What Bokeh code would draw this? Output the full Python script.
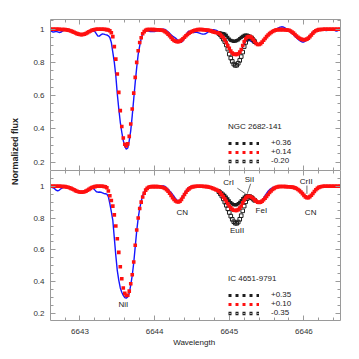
import numpy as np
from bokeh.plotting import figure
from bokeh.models import (Range1d, LinearAxis, SingleIntervalTicker, PrintfTickFormatter,
                          CustomJSTickFormatter, Legend, LegendItem, Label)
from bokeh.layouts import row, column
from bokeh.embed import file_html
from bokeh.resources import INLINE
from bokeh.core.properties import value

FONT = "Liberation Sans"
AXC = "#9a9a9a"
TXT = "#222222"

# ---------------- data ----------------
# spectra are sampled every 0.02 A from 6642.60 to 6646.50
wave = np.round(6642.60 + 0.02 * np.arange(196), 2)
# window around the Eu II line where the three models differ (6644.86 .. 6645.34)
eu_start, eu_len = 113, 25
wave_eu = wave[eu_start:eu_start + eu_len]

# ---- NGC 2682-141 (top panel) ----
top_star = "NGC 2682-141"
top_labels = ["+0.36", "+0.14", "-0.20"]
top_observed = [
    0.990, 0.986, 0.982, 0.984, 0.987, 0.984, 0.980, 0.981, 0.987, 0.993,
    0.997, 0.998, 0.998, 0.996, 0.992, 0.987, 0.982, 0.977, 0.973, 0.970,
    0.968, 0.967, 0.968, 0.970, 0.974, 0.979, 0.984, 0.988, 0.990, 0.990,
    0.985, 0.972, 0.958, 0.958, 0.966, 0.971, 0.970, 0.967, 0.965, 0.960,
    0.950, 0.920, 0.860, 0.800, 0.720, 0.610, 0.520, 0.440, 0.380, 0.330,
    0.295, 0.278, 0.285, 0.330, 0.390, 0.480, 0.580, 0.680, 0.770, 0.850,
    0.900, 0.945, 0.972, 0.985, 0.990, 0.990, 0.988, 0.986, 0.985, 0.985,
    0.986, 0.988, 0.991, 0.994, 0.997, 0.999, 1.000, 0.998, 0.992, 0.984,
    0.975, 0.966, 0.958, 0.952, 0.946, 0.938, 0.929, 0.921, 0.921, 0.930,
    0.948, 0.966, 0.980, 0.988, 0.986, 0.982, 0.980, 0.981, 0.982, 0.979,
    0.976, 0.973, 0.971, 0.970, 0.972, 0.977, 0.984, 0.989, 0.993, 0.996,
    0.996, 0.994, 0.990, 0.982, 0.972, 0.960, 0.947, 0.932, 0.914, 0.897,
    0.880, 0.864, 0.853, 0.846, 0.843, 0.844, 0.848, 0.858, 0.873, 0.893,
    0.912, 0.928, 0.935, 0.934, 0.930, 0.925, 0.919, 0.913, 0.908, 0.905,
    0.905, 0.910, 0.918, 0.928, 0.940, 0.952, 0.964, 0.974, 0.982, 0.989,
    0.994, 0.998, 1.003, 1.008, 1.012, 1.014, 1.013, 1.009, 1.003, 0.997,
    0.990, 0.982, 0.974, 0.966, 0.957, 0.948, 0.940, 0.932, 0.926, 0.922,
    0.923, 0.928, 0.938, 0.950, 0.962, 0.973, 0.982, 0.988, 0.992, 0.994,
    0.995, 0.996, 0.996, 0.995, 0.993, 0.992, 0.993, 0.996, 0.999, 1.000,
    0.997, 0.990, 0.988, 0.992, 0.997, 0.999,
]
top_model_mid = [
    0.999, 0.999, 0.999, 0.999, 0.999, 0.999, 0.999, 0.998, 0.998, 0.998,
    0.997, 0.996, 0.994, 0.992, 0.989, 0.985, 0.981, 0.977, 0.973, 0.970,
    0.968, 0.967, 0.968, 0.970, 0.974, 0.979, 0.984, 0.989, 0.993, 0.996,
    0.998, 0.999, 0.999, 0.999, 0.999, 0.999, 0.999, 0.998, 0.997, 0.995,
    0.990, 0.978, 0.955, 0.895, 0.820, 0.730, 0.620, 0.510, 0.415, 0.345,
    0.308, 0.298, 0.310, 0.355, 0.430, 0.520, 0.615, 0.710, 0.800, 0.870,
    0.920, 0.948, 0.972, 0.985, 0.993, 0.997, 0.998, 0.998, 0.998, 0.997,
    0.997, 0.996, 0.996, 0.995, 0.994, 0.993, 0.990, 0.985, 0.978, 0.970,
    0.960, 0.950, 0.940, 0.932, 0.927, 0.925, 0.925, 0.928, 0.934, 0.942,
    0.951, 0.960, 0.968, 0.975, 0.981, 0.986, 0.990, 0.993, 0.995, 0.997,
    0.998, 0.998, 0.997, 0.996, 0.995, 0.994, 0.993, 0.991, 0.988, 0.985,
    0.982, 0.980, 0.978, 0.975, 0.968, 0.958, 0.948, 0.936, 0.918, 0.900,
    0.885, 0.868, 0.857, 0.850, 0.848, 0.848, 0.852, 0.862, 0.878, 0.902,
    0.925, 0.942, 0.953, 0.956, 0.955, 0.949, 0.938, 0.926, 0.914, 0.908,
    0.908, 0.913, 0.922, 0.933, 0.944, 0.955, 0.965, 0.973, 0.980, 0.986,
    0.990, 0.994, 0.996, 0.997, 0.997, 0.997, 0.997, 0.996, 0.995, 0.994,
    0.993, 0.989, 0.983, 0.976, 0.968, 0.959, 0.951, 0.945, 0.940, 0.937,
    0.936, 0.937, 0.940, 0.946, 0.955, 0.965, 0.975, 0.984, 0.990, 0.994,
    0.997, 0.998, 0.998, 0.999, 0.999, 0.999, 0.999, 0.999, 0.999, 0.999,
    0.999, 0.999, 0.999, 0.999, 0.999, 0.999,
]
top_model_filled = [
    0.977, 0.976, 0.975, 0.973, 0.970, 0.962, 0.950, 0.940, 0.933, 0.929,
    0.927, 0.928, 0.931, 0.936, 0.943, 0.950, 0.957, 0.962, 0.964, 0.964,
    0.961, 0.957, 0.951, 0.940, 0.928,
]
top_model_open = [
    0.974, 0.966, 0.954, 0.940, 0.925, 0.905, 0.880, 0.850, 0.826, 0.806,
    0.790, 0.782, 0.783, 0.795, 0.812, 0.835, 0.862, 0.895, 0.920, 0.940,
    0.948, 0.950, 0.946, 0.936, 0.925,
]

# ---- IC 4651-9791 (bottom panel) ----
bot_star = "IC 4651-9791"
bot_labels = ["+0.35", "+0.10", "-0.35"]
bot_observed = [
    0.995, 0.993, 0.990, 0.984, 0.975, 0.970, 0.974, 0.982, 0.988, 0.993,
    0.996, 0.996, 0.994, 0.990, 0.986, 0.981, 0.976, 0.971, 0.966, 0.962,
    0.960, 0.959, 0.960, 0.963, 0.968, 0.975, 0.983, 0.989, 0.990, 0.985,
    0.975, 0.965, 0.962, 0.963, 0.962, 0.958, 0.954, 0.952, 0.950, 0.935,
    0.890, 0.840, 0.785, 0.675, 0.565, 0.470, 0.410, 0.362, 0.335, 0.315,
    0.302, 0.298, 0.305, 0.330, 0.380, 0.440, 0.520, 0.620, 0.720, 0.800,
    0.860, 0.905, 0.940, 0.965, 0.982, 0.990, 0.993, 0.994, 0.994, 0.995,
    0.996, 0.997, 0.998, 0.999, 1.000, 1.001, 1.001, 0.998, 0.990, 0.980,
    0.970, 0.960, 0.948, 0.935, 0.922, 0.912, 0.908, 0.912, 0.925, 0.940,
    0.955, 0.970, 0.983, 0.992, 0.997, 0.999, 1.000, 1.000, 0.999, 0.998,
    0.998, 0.998, 0.998, 0.997, 0.996, 0.995, 0.993, 0.991, 0.988, 0.984,
    0.980, 0.976, 0.971, 0.965, 0.955, 0.943, 0.930, 0.916, 0.901, 0.886,
    0.872, 0.860, 0.851, 0.846, 0.844, 0.846, 0.851, 0.861, 0.876, 0.896,
    0.915, 0.929, 0.937, 0.939, 0.936, 0.930, 0.922, 0.913, 0.905, 0.900,
    0.899, 0.903, 0.912, 0.925, 0.940, 0.955, 0.968, 0.978, 0.985, 0.990,
    0.994, 0.996, 0.997, 0.998, 0.998, 0.998, 0.998, 0.997, 0.996, 0.995,
    0.995, 0.994, 0.993, 0.991, 0.989, 0.986, 0.982, 0.976, 0.968, 0.958,
    0.948, 0.938, 0.931, 0.929, 0.933, 0.942, 0.954, 0.966, 0.977, 0.986,
    0.992, 0.995, 0.997, 0.998, 0.998, 0.998, 0.998, 0.998, 0.998, 0.998,
    0.998, 0.998, 0.998, 0.998, 0.998, 0.998,
]
bot_model_mid = [
    0.999, 0.999, 0.999, 0.999, 0.999, 0.999, 0.999, 0.999, 0.998, 0.998,
    0.997, 0.995, 0.993, 0.990, 0.986, 0.982, 0.977, 0.972, 0.968, 0.965,
    0.963, 0.962, 0.963, 0.965, 0.969, 0.974, 0.980, 0.986, 0.991, 0.995,
    0.997, 0.999, 0.999, 0.999, 0.999, 0.999, 0.998, 0.996, 0.990, 0.970,
    0.940, 0.910, 0.875, 0.820, 0.750, 0.670, 0.585, 0.495, 0.420, 0.362,
    0.328, 0.315, 0.316, 0.342, 0.388, 0.445, 0.525, 0.630, 0.725, 0.800,
    0.860, 0.900, 0.932, 0.955, 0.975, 0.986, 0.993, 0.996, 0.997, 0.997,
    0.997, 0.997, 0.997, 0.996, 0.995, 0.993, 0.990, 0.985, 0.978, 0.968,
    0.955, 0.942, 0.928, 0.916, 0.907, 0.902, 0.901, 0.906, 0.917, 0.932,
    0.948, 0.962, 0.974, 0.983, 0.990, 0.995, 0.997, 0.998, 0.999, 0.999,
    0.999, 0.999, 0.999, 0.998, 0.998, 0.997, 0.995, 0.993, 0.990, 0.986,
    0.982, 0.978, 0.974, 0.968, 0.958, 0.946, 0.933, 0.920, 0.905, 0.890,
    0.876, 0.864, 0.855, 0.849, 0.847, 0.848, 0.853, 0.862, 0.876, 0.895,
    0.913, 0.926, 0.934, 0.937, 0.935, 0.930, 0.923, 0.914, 0.906, 0.900,
    0.898, 0.900, 0.906, 0.915, 0.925, 0.936, 0.948, 0.960, 0.970, 0.979,
    0.986, 0.991, 0.995, 0.997, 0.998, 0.998, 0.998, 0.998, 0.997, 0.996,
    0.996, 0.995, 0.994, 0.992, 0.989, 0.985, 0.979, 0.972, 0.963, 0.953,
    0.942, 0.933, 0.928, 0.928, 0.934, 0.943, 0.954, 0.966, 0.977, 0.986,
    0.992, 0.996, 0.998, 0.999, 0.999, 0.999, 0.999, 0.999, 0.999, 0.999,
    0.999, 0.999, 0.999, 0.999, 0.999, 0.999,
]
bot_model_filled = [
    0.970, 0.964, 0.958, 0.950, 0.942, 0.932, 0.920, 0.908, 0.897, 0.889,
    0.884, 0.882, 0.884, 0.890, 0.899, 0.910, 0.922, 0.932, 0.939, 0.941,
    0.940, 0.936, 0.930, 0.923, 0.914,
]
bot_model_open = [
    0.965, 0.952, 0.938, 0.920, 0.900, 0.880, 0.858, 0.835, 0.812, 0.792,
    0.777, 0.768, 0.767, 0.775, 0.792, 0.815, 0.845, 0.875, 0.902, 0.922,
    0.932, 0.933, 0.927, 0.919, 0.911,
]

# line identifications in the lower panel
line_ids = ["NiI", "CN", "CrI", "SiI", "FeI", "EuII", "CrII", "CN"]
line_id_wave = [6643.58, 6644.37, 6644.99, 6645.27, 6645.43, 6645.105, 6646.03, 6646.09]
line_id_flux = [0.258, 0.837, 1.022, 1.042, 0.848, 0.725, 1.030, 0.837]
pointer_x0 = [6645.108, 6645.286, 6646.04]
pointer_y0 = [0.987, 1.015, 1.004]
pointer_x1 = [6645.219, 6645.240, 6646.04]
pointer_y1 = [0.952, 0.952, 0.952]

for arr in (top_observed, top_model_mid, bot_observed, bot_model_mid):
    assert len(arr) == len(wave), len(arr)
for arr in (top_model_filled, top_model_open, bot_model_filled, bot_model_open):
    assert len(arr) == eu_len, len(arr)

X_RANGE = (6642.605, 6646.49)
Y_FMT = CustomJSTickFormatter(code="return String(Math.round(tick * 100) / 100);")
BLANK = CustomJSTickFormatter(code="return '';")
RED = "#ff1010"
DARK = "#1e1e1e"


def style_axis(ax, labels, standoff=6):
    ax.axis_line_color = AXC
    ax.axis_line_width = 1
    ax.major_tick_line_color = AXC
    ax.minor_tick_line_color = AXC
    ax.major_tick_in = 5
    ax.major_tick_out = 0
    ax.minor_tick_in = 3
    ax.minor_tick_out = 0
    ax.major_label_text_font = FONT
    ax.major_label_text_color = "#333333"
    if labels:
        ax.major_label_text_font_size = "8px"
        ax.major_label_standoff = standoff
    else:
        ax.formatter = BLANK
        ax.major_label_text_font_size = "1px"
        ax.major_label_standoff = 0


def make_panel(height, yr, btop, bbot, xlabels, observed, mid, filled, opened,
               star, labels, legend_loc):
    p = figure(width=320, height=height, x_range=Range1d(*X_RANGE), y_range=Range1d(*yr),
               output_backend="svg", toolbar_location=None,
               x_axis_type=None, y_axis_type=None,
               min_border_left=22, min_border_right=8,
               min_border_top=btop, min_border_bottom=bbot,
               outline_line_color=None, background_fill_color="white",
               border_fill_color="white")
    xt = SingleIntervalTicker(interval=1, num_minor_ticks=5)
    yt = SingleIntervalTicker(interval=0.2, num_minor_ticks=4)
    for side in ("below", "above"):
        ax = LinearAxis(ticker=xt, formatter=PrintfTickFormatter(format="%d"))
        style_axis(ax, labels=(side == "below" and xlabels), standoff=8)
        p.add_layout(ax, side)
    for side in ("left", "right"):
        ax = LinearAxis(ticker=yt, formatter=Y_FMT)
        style_axis(ax, labels=(side == "left"), standoff=6)
        p.add_layout(ax, side)

    p.line(wave, observed, line_color="#1515ff", line_width=1.4)
    r_open = p.scatter(wave_eu, opened, marker="square", size=3.6, fill_alpha=0,
                       line_color=DARK, line_width=1)
    r_fill = p.scatter(wave_eu, filled, marker="square", size=3.2, fill_color=DARK,
                       line_color=None)
    r_mid = p.scatter(wave, mid, marker="square", size=3.6, fill_color=RED, line_color=None)

    # legend samples: rows of small squares, drawn as dotted strokes (hidden in the plot)
    k1 = p.line(wave_eu, filled, line_color=DARK, line_width=3, line_dash="3 4", visible=False)
    k2 = p.line(wave, mid, line_color=RED, line_width=3, line_dash="3 4", visible=False)
    k3a = p.line(wave_eu, opened, line_color=DARK, line_width=3.6, line_dash="3 4",
                 visible=False)
    k3b = p.line(wave_eu, opened, line_color="white", line_width=1.2, line_dash="1 6",
                 line_dash_offset=-1, visible=False)
    leg = Legend(items=[LegendItem(label=labels[0], renderers=[k1]),
                        LegendItem(label=labels[1], renderers=[k2]),
                        LegendItem(label=labels[2], renderers=[k3a, k3b])],
                 location=legend_loc, title=star,
                 title_text_font=FONT, title_text_font_size="8px",
                 title_text_font_style="normal", title_text_color=TXT, title_standoff=7,
                 label_text_font=FONT, label_text_font_size="8px", label_text_color=TXT,
                 glyph_width=31, glyph_height=8, label_height=8, label_standoff=12,
                 spacing=0, padding=0, margin=0,
                 border_line_color=None, background_fill_alpha=0)
    p.add_layout(leg)
    return p


# page layout: left strip (y label) | column(top panel, bottom panel, x-label strip)
top = make_panel(170, (0.150, 1.058), 19, 0, False, top_observed, top_model_mid,
                 top_model_filled, top_model_open, top_star, top_labels, (178, 5))
bot = make_panel(168, (0.158, 1.098), 0, 18, True, bot_observed, bot_model_mid,
                 bot_model_filled, bot_model_open, bot_star, bot_labels, (178, 3))

bot.text(x=line_id_wave, y=line_id_flux, text=line_ids, text_font=value(FONT),
         text_font_size="8px", text_align="center", text_baseline="middle", text_color=TXT)
bot.segment(x0=pointer_x0, y0=pointer_y0, x1=pointer_x1, y1=pointer_y1,
            line_color="#444444", line_width=0.8)

strip = figure(width=320, height=13, x_range=Range1d(0, 320), y_range=Range1d(0, 13),
               output_backend="svg", toolbar_location=None, min_border=0,
               x_axis_type=None, y_axis_type=None, outline_line_color=None)
strip.add_layout(Label(x=158.5, y=8.7, text="Wavelength", text_font=FONT,
                       text_font_size="8px", text_color=TXT, text_align="center",
                       text_baseline="middle"))

side = figure(width=28, height=351, x_range=Range1d(0, 28), y_range=Range1d(0, 351),
              output_backend="svg", toolbar_location=None, min_border=0,
              x_axis_type=None, y_axis_type=None, outline_line_color=None)
side.add_layout(Label(x=14, y=200, text="Normalized flux", angle=90, angle_units="deg",
                      text_font=FONT, text_font_size="9px", text_font_style="bold",
                      text_color=TXT, text_align="center", text_baseline="middle"))

layout = row(side, column(top, bot, strip))
open("out.html", "w").write(file_html(layout, INLINE))
